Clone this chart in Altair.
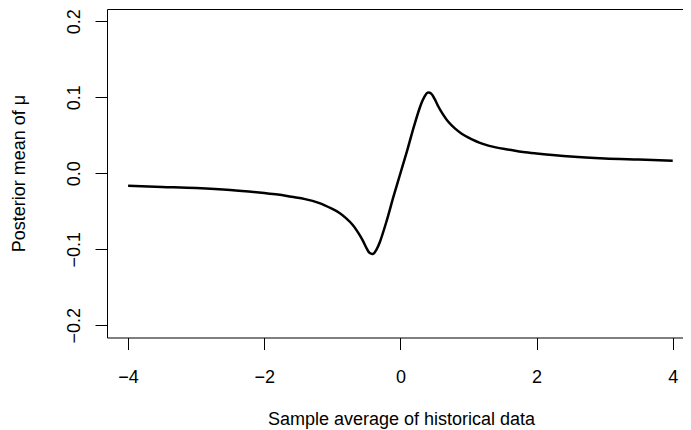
import altair as alt
import pandas as pd

# Curve
xs = [-4.0, -3.5, -3.0, -2.5, -2.0, -1.8, -1.6, -1.4, -1.2, -1.0, -0.9, -0.8, -0.7,
      -0.6, -0.55, -0.5, -0.45, -0.4, -0.35, -0.3, -0.2, -0.1, 0.0,
      0.1, 0.2, 0.3, 0.35, 0.4, 0.45, 0.5, 0.55, 0.6, 0.7, 0.8, 0.9, 1.0,
      1.2, 1.4, 1.6, 1.8, 2.0, 2.5, 3.0, 3.5, 4.0]
ys = [-0.0165, -0.018, -0.0195, -0.022, -0.026, -0.028, -0.031, -0.034, -0.039, -0.047,
      -0.052, -0.059, -0.068, -0.081, -0.089, -0.098, -0.105, -0.106, -0.100, -0.090,
      -0.062, -0.030, 0.0,
      0.030, 0.062, 0.090, 0.100, 0.106, 0.105, 0.098, 0.089, 0.081, 0.068, 0.059,
      0.052, 0.047, 0.039, 0.034, 0.031, 0.028, 0.026, 0.022, 0.0195, 0.018, 0.0165]

x_ticks = [-4, -2, 0, 2, 4]
y_ticks = [-0.2, -0.1, 0.0, 0.1, 0.2]

df = pd.DataFrame({"x": xs, "y": ys})

FONT = "Liberation Sans"
FS = 18

xscale = alt.Scale(domain=[-4.31, 4.151], nice=False, zero=False)
yscale = alt.Scale(domain=[-0.216, 0.216], nice=False, zero=False)

y_axis = alt.Axis(values=y_ticks, format=".1f", orient="left",
                  title="Posterior mean of μ",
                  grid=False, domain=True, domainColor="black", domainWidth=1,
                  ticks=True, tickColor="black", tickSize=12, tickWidth=1,
                  labelFont=FONT, labelFontSize=FS, labelColor="black",
                  labelAngle=270, labelAlign="center", labelBaseline="alphabetic",
                  labelPadding=16,
                  titleFont=FONT, titleFontSize=FS, titleFontWeight="normal",
                  titleColor="black", titleAngle=270, titleBaseline="alphabetic",
                  titleAlign="center", titleX=-83, titleY=164)

line = alt.Chart(df).mark_line(color="black", strokeWidth=2.5, interpolate="catmull-rom").encode(
    x=alt.X("x:Q", scale=xscale,
            axis=alt.Axis(values=x_ticks, format="d", orient="bottom",
                          title="Sample average of historical data",
                          grid=False, domain=True, domainColor="black", domainWidth=1,
                          ticks=True, tickColor="black", tickSize=12, tickWidth=1,
                          labelFont=FONT, labelFontSize=FS, labelColor="black",
                          labelBaseline="alphabetic", labelPadding=32.5, labelAlign="center",
                          titleFont=FONT, titleFontSize=FS, titleFontWeight="normal",
                          titleColor="black", titleBaseline="alphabetic",
                          titleX=294, titleY=86.5, titleAlign="center")),
    y=alt.Y("y:Q", scale=yscale, axis=y_axis),
)

top_border = alt.Chart(df).mark_line(opacity=0).encode(
    x=alt.X("x:Q", scale=xscale,
            axis=alt.Axis(orient="top", labels=False, ticks=False, grid=False, title=None,
                          domain=True, domainColor="black", domainWidth=1)),
    y=alt.Y("y:Q", scale=yscale, axis=y_axis),
)

chart = alt.layer(line, top_border).resolve_axis(x="independent").properties(
    width=576,
    height=328.5,
    autosize=alt.AutoSizeParams(type="none"),
    padding={"left": 99, "top": 1, "right": 0, "bottom": 92.5},
    background="white",
).configure_view(stroke=None)

chart.save("out.html", embed_options={"renderer": "svg", "actions": False})
